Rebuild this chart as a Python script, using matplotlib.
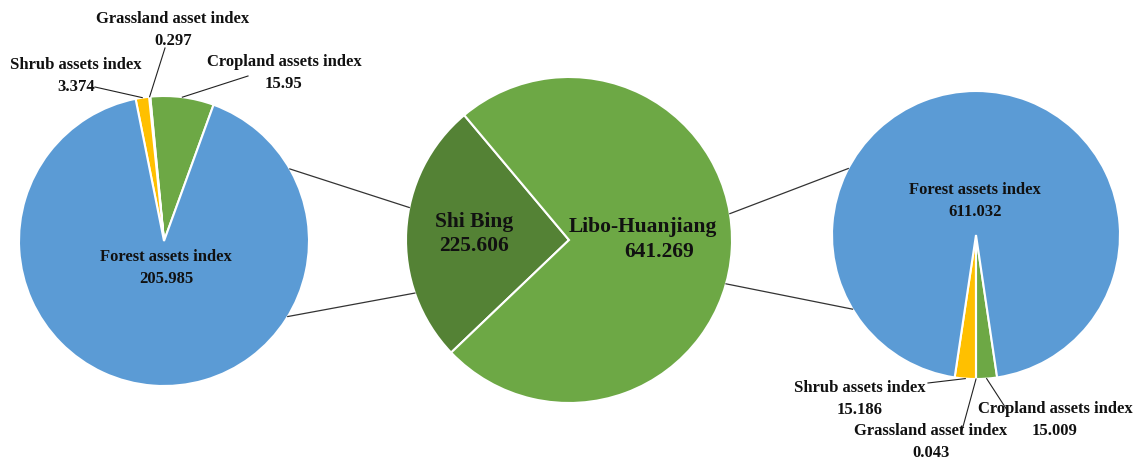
import numpy as np
import matplotlib.pyplot as plt

plt.rcParams['font.family'] = ['Liberation Serif', 'DejaVu Serif']
plt.rcParams['font.weight'] = 'bold'

# overall split between the two regions
region_names = ["Shi Bing", "Libo-Huanjiang"]
region_values = [225.606, 641.269]

# Shi Bing breakdown (left pie)
sb_names = ["Cropland assets index", "Grassland asset index", "Shrub assets index", "Forest assets index"]
sb_values = [15.95, 0.297, 3.374, 205.985]

# Libo-Huanjiang breakdown (right pie)
lh_names = ["Shrub assets index", "Grassland asset index", "Cropland assets index", "Forest assets index"]
lh_values = [15.186, 0.043, 15.009, 611.032]

BLUE = '#5B9BD5'
YELLOW = '#FFC000'
GREEN = '#6DA845'
DARK_GREEN = '#548235'

W, H = 1133, 461
fig = plt.figure(figsize=(W / 100, H / 100), dpi=100)
ax = fig.add_axes([0, 0, 1, 1])


def py(y):
    # pixel row -> data y (y axis points up)
    return H - y


def on_circle(center, r, deg):
    a = np.deg2rad(deg)
    return center[0] + r * np.cos(a), center[1] + r * np.sin(a)


wp = dict(edgecolor='white', linewidth=1.5)

# pie centres / radii
c_left, r_left = (164, py(241)), 145
c_mid, r_mid = (569, py(240)), 163
c_right, r_right = (976, py(235)), 144

# middle pie
mid_start = 130
ax.pie(region_values, colors=[DARK_GREEN, GREEN], startangle=mid_start,
       center=c_mid, radius=r_mid, wedgeprops=wp, frame=True)

# left pie
sb_start = 70
ax.pie(sb_values, colors=[GREEN, YELLOW, YELLOW, BLUE], startangle=sb_start,
       center=c_left, radius=r_left, wedgeprops=wp, frame=True)

# right pie, small slices centred at the bottom
lh_total = sum(lh_values)
lh_start = 270 - 360 * lh_values[0] / lh_total
ax.pie(lh_values, colors=[YELLOW, YELLOW, GREEN, BLUE], startangle=lh_start,
       center=c_right, radius=r_right, wedgeprops=wp, frame=True)

ax.set_xlim(0, W)
ax.set_ylim(0, H)
ax.set_aspect('equal')
ax.axis('off')


def mid_angles(values, start):
    total = sum(values)
    angles = []
    a = start
    for v in values:
        span = 360 * v / total
        angles.append(a + span / 2)
        a += span
    return angles


lbl = dict(ha='center', va='center', fontsize=12, fontweight='bold', color='#111111',
           linespacing=1.45)
line = dict(color='#222222', linewidth=0.8)

# left pie labels
sb_mid = mid_angles(sb_values, sb_start)
sb_text = [(284, 73, 248, 76), (173, 30, 165, 48), (76, 76, 95, 87)]
for i, (tx, ty, lx, ly) in enumerate(sb_text):
    ax.text(tx, py(ty), f"{sb_names[i]}\n{sb_values[i]}", **lbl)
    ex, ey = on_circle(c_left, r_left, sb_mid[i])
    ax.plot([lx, ex], [py(ly), ey], **line)
ax.text(166, py(268), f"{sb_names[3]}\n{sb_values[3]}", **lbl)

# right pie labels
lh_mid = mid_angles(lh_values, lh_start)
lh_text = [(860, 399, 928, 383), (931, 442, 961, 434), (1055, 420, 1007, 410)]
for i, (tx, ty, lx, ly) in enumerate(lh_text):
    ax.text(tx, py(ty), f"{lh_names[i]}\n{lh_values[i]:.3f}", **lbl)
    ex, ey = on_circle(c_right, r_right, lh_mid[i])
    ax.plot([lx, ex], [py(ly), ey], **line)
ax.text(975, py(201), f"{lh_names[3]}\n{lh_values[3]}", **lbl)

# middle pie labels
big = dict(lbl, fontsize=15.5, linespacing=1.3)
ax.text(474, py(234), f"{region_names[0]}\n{region_values[0]}", **big)
ax.text(643, py(227), region_names[1], **big)
ax.text(659, py(252), f"{region_values[1]}", **big)

# connector lines between the middle pie and the breakdown pies
conn = dict(color='#333333', linewidth=0.9)
for a_side, a_mid in [(29.8, 168.5), (-31.4, 199.0)]:
    x0, y0 = on_circle(c_left, r_left, a_side)
    x1, y1 = on_circle(c_mid, r_mid, a_mid)
    ax.plot([x0, x1], [y0, y1], **conn)
for a_mid, a_side in [(9.3, 152.5), (-15.6, 211.0)]:
    x0, y0 = on_circle(c_mid, r_mid, a_mid)
    x1, y1 = on_circle(c_right, r_right, a_side)
    ax.plot([x0, x1], [y0, y1], **conn)

fig.savefig('out.png', dpi=100, facecolor='white')
